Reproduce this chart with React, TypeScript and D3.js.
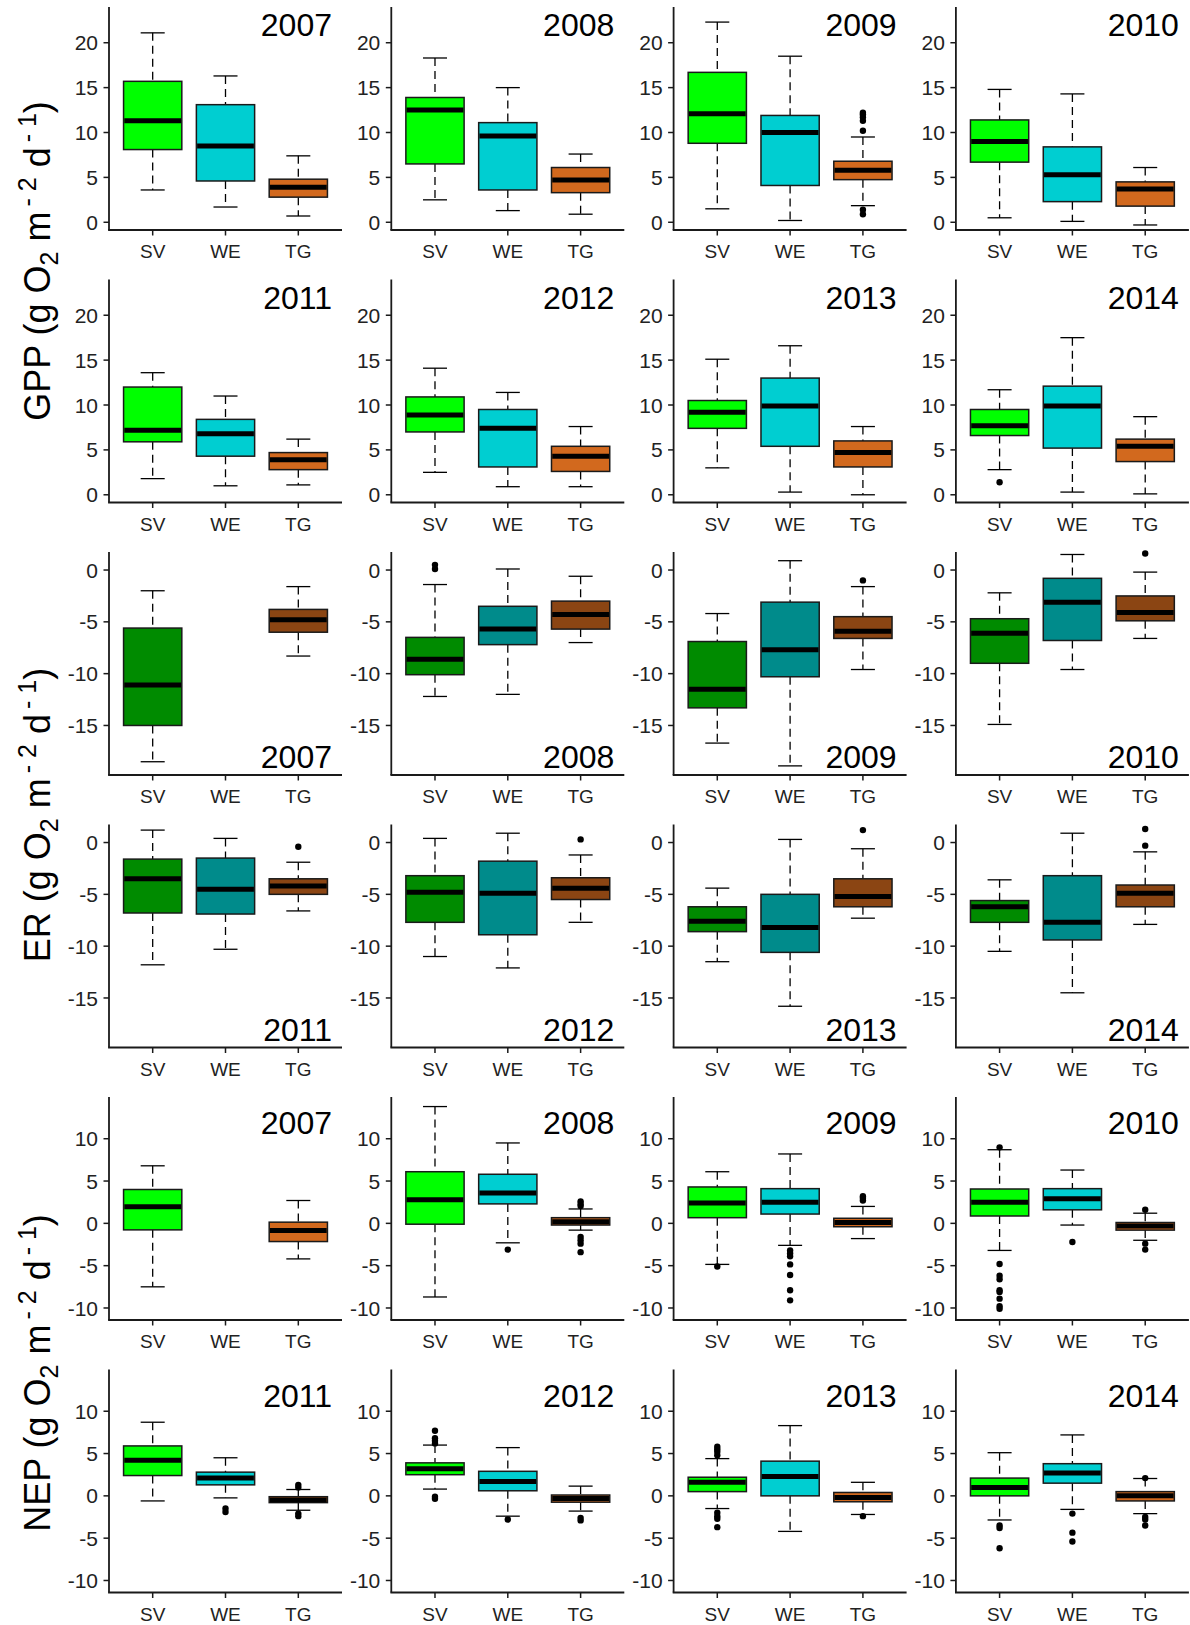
import React from "react";
import * as d3 from "d3";

// ---------- data ----------
const years = ["2007", "2008", "2009", "2010", "2011", "2012", "2013", "2014"];
const sites = ["SV", "WE", "TG"];
const variables = ["GPP", "ER", "NEP"];

// per year: per site [lower whisker, Q1, median, Q3, upper whisker]
const gppStats = [
  [[3.6, 8.1, 11.3, 15.7, 21.1], [1.7, 4.6, 8.5, 13.1, 16.3], [0.7, 2.8, 3.9, 4.8, 7.4]],
  [[2.5, 6.5, 12.5, 13.9, 18.3], [1.3, 3.6, 9.6, 11.1, 15.0], [0.9, 3.3, 4.7, 6.1, 7.6]],
  [[1.5, 8.8, 12.1, 16.7, 22.3], [0.2, 4.1, 10.0, 11.9, 18.5], [1.85, 4.75, 5.8, 6.8, 9.5]],
  [[0.5, 6.7, 9.0, 11.4, 14.8], [0.1, 2.3, 5.3, 8.4, 14.3], [-0.3, 1.8, 3.7, 4.5, 6.1]],
  [[1.8, 5.9, 7.2, 12.0, 13.6], [1.0, 4.3, 6.8, 8.4, 11.0], [1.1, 2.8, 3.9, 4.7, 6.2]],
  [[2.5, 7.0, 8.9, 10.9, 14.1], [0.9, 3.1, 7.4, 9.5, 11.4], [0.9, 2.6, 4.3, 5.4, 7.6]],
  [[3.0, 7.4, 9.2, 10.5, 15.1], [0.3, 5.4, 9.9, 13.0, 16.6], [0.0, 3.1, 4.7, 6.0, 7.6]],
  [[2.8, 6.6, 7.7, 9.5, 11.7], [0.3, 5.2, 9.9, 12.1, 17.5], [0.1, 3.7, 5.4, 6.2, 8.7]],
];
const gppOutliers = [
  [[], [], []],
  [[], [], []],
  [[], [], [12.2, 12.0, 11.7, 11.3, 10.2, 1.4, 0.9]],
  [[], [], []],
  [[], [], []],
  [[], [], []],
  [[], [], []],
  [[1.4], [], []],
];

const erStats = [
  [[-18.5, -15.0, -11.1, -5.6, -2.0], null, [-8.3, -6.0, -4.8, -3.8, -1.6]],
  [[-12.2, -10.1, -8.6, -6.5, -1.4], [-12.0, -7.2, -5.7, -3.5, 0.1], [-7.0, -5.7, -4.3, -3.0, -0.6]],
  [[-16.7, -13.3, -11.5, -6.9, -4.2], [-18.9, -10.3, -7.7, -3.1, 0.9], [-9.6, -6.6, -5.9, -4.5, -1.6]],
  [[-14.9, -9.0, -6.1, -4.7, -2.2], [-9.6, -6.8, -3.1, -0.8, 1.5], [-6.6, -4.9, -4.1, -2.5, -0.2]],
  [[-11.8, -6.8, -3.5, -1.6, 1.2], [-10.3, -6.9, -4.5, -1.5, 0.4], [-6.6, -5.0, -4.2, -3.5, -1.9]],
  [[-11.0, -7.7, -4.8, -3.2, 0.4], [-12.1, -8.9, -4.9, -1.8, 0.9], [-7.7, -5.5, -4.4, -3.4, -1.2]],
  [[-11.5, -8.6, -7.6, -6.2, -4.4], [-15.8, -10.6, -8.2, -5.0, 0.3], [-7.3, -6.2, -5.2, -3.5, -0.6]],
  [[-10.5, -7.7, -6.2, -5.6, -3.6], [-14.5, -9.4, -7.7, -3.2, 0.9], [-7.9, -6.2, -4.9, -4.1, -0.9]],
];
const erOutliers = [
  [[], [], []],
  [[0.5, 0.1], [], []],
  [[], [], [-1.0]],
  [[], [], [1.6]],
  [[], [], [-0.4]],
  [[], [], [0.3]],
  [[], [], [1.2]],
  [[], [], [1.3, -0.3]],
];

const nepStats = [
  [[-7.5, -0.77, 1.95, 4.0, 6.8], null, [-4.2, -2.15, -0.85, 0.14, 2.7]],
  [[-8.7, -0.1, 2.8, 6.1, 13.8], [-2.3, 2.3, 3.6, 5.8, 9.5], [-0.8, -0.2, 0.2, 0.67, 1.7]],
  [[-4.85, 0.67, 2.4, 4.3, 6.1], [-2.6, 1.1, 2.5, 4.1, 8.2], [-1.8, -0.4, 0.1, 0.6, 2.0]],
  [[-3.2, 0.87, 2.5, 4.06, 8.7], [-0.2, 1.6, 2.9, 4.1, 6.3], [-2.0, -0.8, -0.3, 0.1, 1.2]],
  [[-0.6, 2.4, 4.2, 5.9, 8.7], [-0.24, 1.3, 2.1, 2.8, 4.5], [-1.7, -0.8, -0.5, -0.1, 0.75]],
  [[0.8, 2.5, 3.2, 3.9, 6.0], [-2.4, 0.6, 1.7, 2.9, 5.7], [-1.8, -0.75, -0.3, 0.1, 1.15]],
  [[-1.5, 0.5, 1.6, 2.2, 4.4], [-4.2, 0.0, 2.3, 4.1, 8.3], [-2.2, -0.7, -0.2, 0.4, 1.6]],
  [[-2.85, 0.0, 1.0, 2.1, 5.1], [-1.6, 1.5, 2.7, 3.8, 7.2], [-2.1, -0.6, 0.0, 0.5, 2.05]],
];
const nepOutliers = [
  [[], [], []],
  [[], [-3.1], [2.6, 2.3, 2.05, -1.6, -2.0, -2.4, -3.4]],
  [[-5.1], [-3.2, -3.55, -3.9, -4.85, -6.1, -7.9, -9.1], [3.2, 3.0, 2.7]],
  [[8.98, -4.8, -6.2, -6.6, -7.9, -8.1, -8.9, -9.8, -10.1], [-2.2], [1.6, -2.4, -3.1]],
  [[], [-1.5, -1.9], [1.3, 1.0, -2.1, -2.4]],
  [[7.7, 6.8, 6.5, 6.2, -0.1, -0.35], [-2.8], [-2.6, -2.9]],
  [[5.8, 5.5, 5.2, 4.8, -2.0, -2.4, -2.7, -3.7], [], [-2.4]],
  [[-3.5, -3.8, -6.2], [-2.1, -4.35, -5.4], [2.1, -2.5, -2.8, -3.5]],
];

const gppTicks = [0, 5, 10, 15, 20];
const erTicks = [0, -5, -10, -15];
const nepTicks = [-10, -5, 0, 5, 10];
const gppDomain = [-0.86, 23.98];
const erDomain = [-19.78, 1.74];
const nepDomain = [-11.42, 14.93];

const lightColors = ["#00FF00", "#00CED1", "#D2691E"];
const darkColors = ["#008B00", "#008B8B", "#8B4513"];

// ---------- layout ----------
const W = 1190;
const H = 1625;
const colX0 = 109;
const colStep = 282.3;
const panelW = 233;
const rowTop0 = 7;
const rowStep = 272.5;
const panelH = 223;
const titleCenters = [261, 815, 1373];
const FONT = "'Liberation Sans', Arial, Helvetica, sans-serif";

type Stats = number[] | null;

function Panel(props: {
  x0: number;
  y0: number;
  stats: Stats[];
  outliers: number[][];
  domain: number[];
  ticks: number[];
  colors: string[];
  year: string;
  yearMode: string;
}) {
  const { x0, y0, stats, outliers, domain, ticks, colors, year, yearMode } = props;
  const x = d3.scalePoint<string>().domain(sites).range([0, panelW]).padding(0.6);
  const y = d3.scaleLinear().domain(domain).range([panelH, 0]);
  const step = x.step();
  const bw = step * 0.8;
  const cw = step * 0.33;
  let yearY = 29;
  if (yearMode === "bottom") yearY = panelH - 7;
  if (yearMode === "nep") yearY = 37;
  return (
    <g transform={`translate(${x0},${y0})`}>
      {stats.map((s, i) => {
        if (!s) return null;
        const cx = x(sites[i]) as number;
        const [lo, q1, med, q3, hi] = s;
        return (
          <g key={i}>
            <line x1={cx} x2={cx} y1={y(hi)} y2={y(q3)} stroke="#000" strokeWidth={1.3} strokeDasharray="8,5" />
            <line x1={cx} x2={cx} y1={y(q1)} y2={y(lo)} stroke="#000" strokeWidth={1.3} strokeDasharray="8,5" />
            <line x1={cx - cw / 2} x2={cx + cw / 2} y1={y(hi)} y2={y(hi)} stroke="#000" strokeWidth={1.3} />
            <line x1={cx - cw / 2} x2={cx + cw / 2} y1={y(lo)} y2={y(lo)} stroke="#000" strokeWidth={1.3} />
            <rect x={cx - bw / 2} width={bw} y={y(q3)} height={y(q1) - y(q3)} fill={colors[i]} stroke="#1a1a1a" strokeWidth={1.5} />
            <line x1={cx - bw / 2 + 0.75} x2={cx + bw / 2 - 0.75} y1={y(med)} y2={y(med)} stroke="#000" strokeWidth={5} />
            {outliers[i].map((o, j) => (
              <circle key={j} cx={cx} cy={y(o)} r={3.2} fill="#000" />
            ))}
          </g>
        );
      })}
      {/* axes */}
      <line x1={0} x2={0} y1={0} y2={panelH} stroke="#1a1a1a" strokeWidth={1.8} />
      <line x1={-0.9} x2={panelW} y1={panelH} y2={panelH} stroke="#1a1a1a" strokeWidth={1.8} />
      {ticks.map((t) => (
        <g key={t}>
          <line x1={-5.5} x2={0} y1={y(t)} y2={y(t)} stroke="#1a1a1a" strokeWidth={1.5} />
          <text x={-11} y={y(t)} dy="0.36em" textAnchor="end" fontSize={21} fill="#222" fontFamily={FONT}>
            {t}
          </text>
        </g>
      ))}
      {sites.map((s) => (
        <g key={s}>
          <line x1={x(s)} x2={x(s)} y1={panelH} y2={panelH + 5.5} stroke="#1a1a1a" strokeWidth={1.5} />
          <text x={x(s)} y={panelH + 28} textAnchor="middle" fontSize={19} fill="#222" fontFamily={FONT}>
            {s}
          </text>
        </g>
      ))}
      <text x={223} y={yearY} textAnchor="end" fontSize={32} fill="#000" fontFamily={FONT}>
        {year}
      </text>
    </g>
  );
}

function YTitle(props: { name: string; cy: number }) {
  const { name, cy } = props;
  const small = 25;
  return (
    <text
      transform={`translate(50,${cy}) rotate(-90)`}
      textAnchor="middle"
      fontSize={36}
      fill="#000"
      fontFamily={FONT}
    >
      {name} (g O
      <tspan fontSize={small} dy={8}>2</tspan>
      <tspan dy={-8}> m</tspan>
      <tspan fontSize={small} dy={-14} dx={5}>- 2</tspan>
      <tspan dy={14}> d</tspan>
      <tspan fontSize={small} dy={-14} dx={5}>- 1</tspan>
      <tspan dy={14}>)</tspan>
    </text>
  );
}

export default function App() {
  const varData = [
    { stats: gppStats, out: gppOutliers, domain: gppDomain, ticks: gppTicks, colors: lightColors, mode: "top" },
    { stats: erStats, out: erOutliers, domain: erDomain, ticks: erTicks, colors: darkColors, mode: "bottom" },
    { stats: nepStats, out: nepOutliers, domain: nepDomain, ticks: nepTicks, colors: lightColors, mode: "nep" },
  ];
  return (
    <svg
      width={W}
      height={H}
      style={{ position: "absolute", left: 0, top: 0, background: "#fff" }}
    >
      <rect width={W} height={H} fill="#fff" />
      {variables.map((v, vi) => (
        <g key={v}>
          <YTitle name={v} cy={titleCenters[vi]} />
          {years.map((yr, yi) => {
            const row = vi * 2 + Math.floor(yi / 4);
            const col = yi % 4;
            const d = varData[vi];
            return (
              <Panel
                key={yr}
                x0={colX0 + col * colStep}
                y0={rowTop0 + row * rowStep}
                stats={d.stats[yi]}
                outliers={d.out[yi]}
                domain={d.domain}
                ticks={d.ticks}
                colors={d.colors}
                year={yr}
                yearMode={d.mode}
              />
            );
          })}
        </g>
      ))}
    </svg>
  );
}
